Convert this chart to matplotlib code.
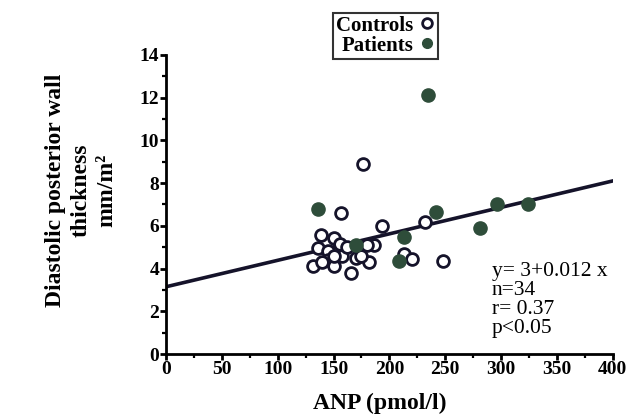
import matplotlib
matplotlib.use("Agg")
import matplotlib.pyplot as plt
from matplotlib.ticker import MultipleLocator

# ANP (pmol/l) vs diastolic posterior wall thickness (mm/m2)
controls_x = [176, 157, 193, 232, 248, 213, 220, 186, 180, 182, 166, 170, 139,
              150, 156, 136, 145, 158, 145, 150, 132, 150, 162, 140, 175]
controls_y = [8.9, 6.6, 6.0, 6.2, 4.35, 4.7, 4.45, 5.1, 5.1, 4.3, 3.8, 4.5, 5.55,
              5.45, 5.15, 4.95, 4.8, 4.6, 4.4, 4.1, 4.1, 4.6, 5.0, 4.3, 4.6]
patients_x = [136, 170, 213, 209, 242, 281, 296, 324, 235]
patients_y = [6.78, 5.1, 5.47, 4.37, 6.65, 5.9, 7.02, 7.02, 12.1]

fit_x = [0, 400]
fit_y = [3.15, 8.1]
stats_text = "y= 3+0.012 x\nn=34\nr= 0.37\np<0.05"

plt.rcParams["font.family"] = ["Liberation Serif", "DejaVu Serif"]

fig = plt.figure(figsize=(6.27, 4.19), dpi=100)
ax = fig.add_axes([0.265, 0.155, 0.712, 0.714])

ax.plot(fit_x, fit_y, color="#15132a", lw=2.6, zorder=2)
ax.plot(controls_x, controls_y, "o", ms=8.5, mfc="white", mec="#15132a", mew=2.0,
        ls="none", label="Controls", zorder=3)
ax.plot(patients_x, patients_y, "o", ms=9.5, mfc="#2e4d3a", mec="#2e4d3a", mew=1,
        ls="none", label="Patients", zorder=4)

ax.set_xlim(0, 400)
ax.set_ylim(0, 14)
ax.xaxis.set_major_locator(MultipleLocator(50))
ax.xaxis.set_minor_locator(MultipleLocator(25))
ax.yaxis.set_major_locator(MultipleLocator(2))
ax.yaxis.set_minor_locator(MultipleLocator(1))
for s in ("top", "right"):
    ax.spines[s].set_visible(False)
for s in ("left", "bottom"):
    ax.spines[s].set_linewidth(2)
ax.tick_params(which="major", length=4, width=2, direction="out", labelsize=14, pad=1)
ax.tick_params(which="minor", length=3, width=1.6, direction="out")
for lab in ax.get_xticklabels() + ax.get_yticklabels():
    lab.set_fontweight("bold")

ax.set_xlabel("ANP (pmol/l)", fontsize=17, fontweight="bold")
ax.xaxis.set_label_coords(0.478, -0.128)
fig.text(0.13, 0.545, "Diastolic posterior wall\nthickness\nmm/m²", rotation=90,
         fontsize=17, fontweight="bold", ha="center", va="center",
         multialignment="center", linespacing=1.3)

ax.text(292, 4.3, stats_text, fontsize=15.5, va="top", ha="left", linespacing=1.0)

leg = ax.legend(loc="upper center", bbox_to_anchor=(0.615, 0.97),
                bbox_transform=fig.transFigure, markerfirst=False, frameon=True,
                fancybox=False, edgecolor="black", borderpad=0.15, labelspacing=0.0,
                handletextpad=0.25, handlelength=0.8, borderaxespad=0,
                prop={"weight": "bold", "size": 15})
leg.get_frame().set_linewidth(1.5)
for h in leg.legend_handles:
    h.set_markersize(7)

fig.savefig("out.png", dpi=100)
